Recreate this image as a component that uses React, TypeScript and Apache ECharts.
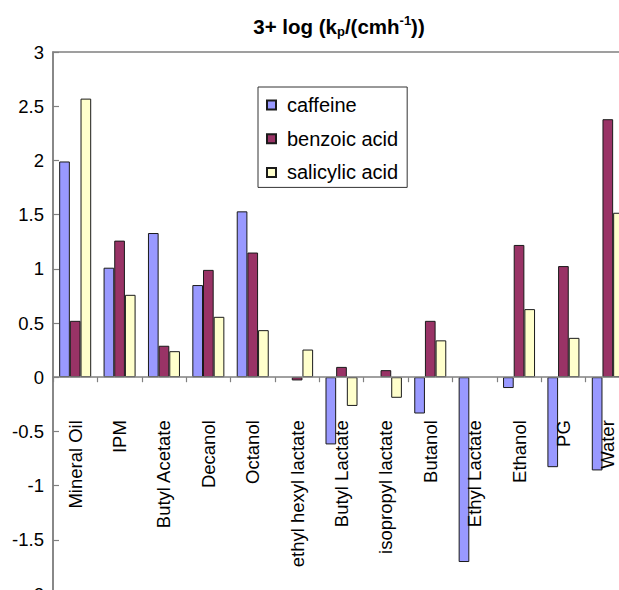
import React, { useEffect, useRef } from 'react';
import * as echarts from 'echarts';

const categories = [
  'Mineral Oil', 'IPM', 'Butyl Acetate', 'Decanol', 'Octanol', 'ethyl hexyl lactate',
  'Butyl Lactate', 'isopropyl lactate', 'Butanol', 'Ethyl Lactate', 'Ethanol', 'PG', 'Water',
];
const seriesNames = ['caffeine', 'benzoic acid', 'salicylic acid'];
const caffeine = [1.99, 1.01, 1.33, 0.85, 1.53, null, -0.62, null, -0.335, -1.705, -0.1, -0.83, -0.86];
const benzoicAcid = [0.52, 1.26, 0.29, 0.99, 1.15, -0.03, 0.095, 0.065, 0.52, null, 1.22, 1.025, 2.38];
const salicylicAcid = [2.57, 0.76, 0.24, 0.557, 0.434, 0.255, -0.265, -0.19, 0.34, null, 0.628, 0.363, 1.517];
const seriesColors = ['#9999ff', '#993366', '#ffffcc'];
const yMin = -2;
const yMax = 3;

const FONT = '"Liberation Sans", Arial, sans-serif';

export default function App() {
  const ref = useRef<HTMLDivElement>(null);
  useEffect(() => {
    const chart = echarts.init(ref.current!, null, { renderer: 'svg' });
    const values = [caffeine, benzoicAcid, salicylicAcid];
    const gridTop = 52;
    const gridBottom = -4;
    const plotH = 590 - gridTop - gridBottom;
    // move the category axis (line, ticks, labels) up to the zero line
    const zeroOffset = -plotH * (0 - yMin) / (yMax - yMin);
    chart.setOption({
      animation: false,
      backgroundColor: '#ffffff',
      title: {
        text: '{a|3+ log (k}{sub|p}{a|/(cmh}{sup|-1}{a|))}',
        left: 339,
        top: 14,
        padding: 0,
        textAlign: 'center',
        textStyle: {
          rich: {
            a: { fontSize: 20.5, fontWeight: 'bold', fontFamily: FONT, color: '#000', lineHeight: 24, verticalAlign: 'middle' },
            sub: { fontSize: 13, fontWeight: 'bold', fontFamily: FONT, color: '#000', lineHeight: 12, verticalAlign: 'bottom' },
            sup: { fontSize: 13, fontWeight: 'bold', fontFamily: FONT, color: '#000', lineHeight: 12, verticalAlign: 'top' },
          },
        },
      },
      legend: {
        orient: 'vertical',
        left: 258,
        top: 87,
        padding: [8, 9, 5, 8],
        itemWidth: 9,
        itemHeight: 9,
        itemGap: 13.7,
        icon: 'rect',
        borderColor: '#333',
        borderWidth: 1,
        data: seriesNames,
        textStyle: { fontSize: 20, fontFamily: FONT, color: '#000', lineHeight: 20, padding: [0, 0, 0, 6] },
      },
      grid: {
        left: 53, top: gridTop, right: -11, bottom: gridBottom,
        show: true, borderColor: '#808080', borderWidth: 1.5,
        containLabel: false, outerBoundsMode: 'none',
      },
      xAxis: {
        type: 'category',
        data: categories,
        z: 5,
        offset: zeroOffset,
        axisLine: { onZero: false, lineStyle: { color: '#808080', width: 1.5 } },
        axisTick: { show: true, interval: 0, length: 5, lineStyle: { color: '#808080', width: 1.2 } },
        axisLabel: { interval: 0, rotate: 90, margin: 43, fontSize: 18.5, fontFamily: FONT, color: '#000' },
      },
      yAxis: {
        type: 'value',
        min: yMin,
        max: yMax,
        interval: 0.5,
        splitLine: { show: false },
        axisLine: { show: true, lineStyle: { color: '#808080', width: 1.5 } },
        axisTick: { show: true, inside: true, length: 6, lineStyle: { color: '#808080', width: 1.2 } },
        axisLabel: { margin: 9, fontSize: 18.5, fontFamily: FONT, color: '#000' },
      },
      series: seriesNames.map((name, i) => ({
        name,
        type: 'bar',
        data: values[i],
        barWidth: 10.67,
        barGap: '0%',
        itemStyle: { color: seriesColors[i], borderColor: '#1a1a1a', borderWidth: 1 },
      })),
    });
    return () => chart.dispose();
  }, []);
  return (
    <div
      ref={ref}
      style={{ position: 'fixed', left: 0, top: 0, width: 619, height: 590, overflow: 'hidden', background: '#fff' }}
    />
  );
}
